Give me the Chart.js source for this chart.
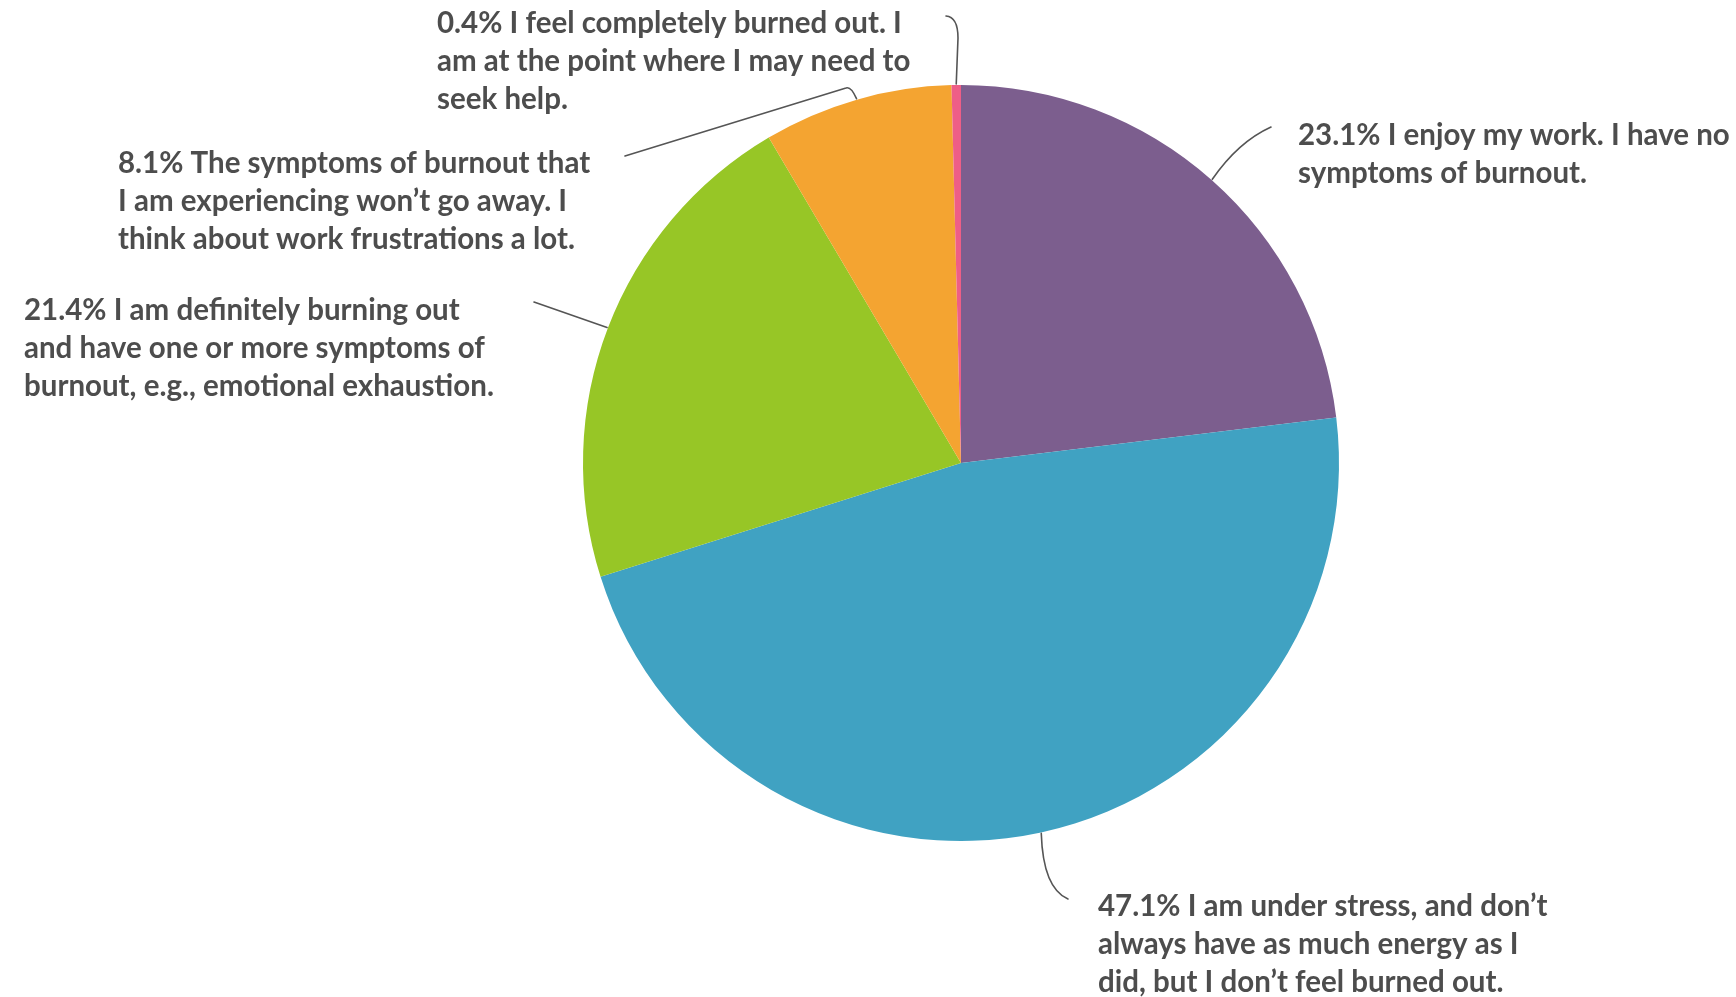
<!DOCTYPE html>
<html>
<head>
<meta charset="utf-8">
<script src="https://cdn.jsdelivr.net/npm/chart.js@4.4.1/dist/chart.umd.min.js"></script>
<style>
  html, body { margin: 0; padding: 0; background: #ffffff; }
  #wrap { width: 1736px; height: 997px; position: relative; }
</style>
</head>
<body>
<div id="wrap"><canvas id="c" width="1736" height="997"></canvas></div>
<script>
// ---- data ----
const categories = [
  "I enjoy my work. I have no symptoms of burnout.",
  "I am under stress, and don’t always have as much energy as I did, but I don’t feel burned out.",
  "I am definitely burning out and have one or more symptoms of burnout, e.g., emotional exhaustion.",
  "The symptoms of burnout that I am experiencing won't go away. I think about work frustrations a lot.",
  "I feel completely burned out. I am at the point where I may need to seek help."
];
const percentValues = [23.1, 47.1, 21.4, 8.1, 0.4];
const sliceColors = ["#7C5E8E", "#40A2C2", "#97C626", "#F4A431", "#EE5E87"];
const labelLines = [
  ["23.1% I enjoy my work. I have no", "symptoms of burnout."],
  ["47.1% I am under stress, and don’t", "always have as much energy as I", "did, but I don’t feel burned out."],
  ["21.4% I am definitely burning out", "and have one or more symptoms of", "burnout, e.g., emotional exhaustion."],
  ["8.1% The symptoms of burnout that", "I am experiencing won’t go away. I", "think about work frustrations a lot."],
  ["0.4% I feel completely burned out. I", "am at the point where I may need to", "seek help."]
];

// ---- layout (label anchors and leader routing) ----
const labelPos = [
  {x: 1298, y: 135},
  {x: 1098, y: 906},
  {x: 24,   y: 310},
  {x: 118,  y: 163},
  {x: 437,  y: 23}
];
const lineHeight = 38;
// leader: list of segments after the arc start point; 'q' = quadratic (cx,cy,x,y), 'l' = line (x,y)
const leaders = [
  [["q", 1238, 142, 1271, 127]],
  [["q", 1043, 888, 1068, 899]],
  [["l", 534, 302]],
  [["q", 851, 86, 846, 88], ["l", 625, 156]],
  [["l", 958, 38], ["q", 958, 17, 946, 16]]
];

const labelPlugin = {
  id: 'labelPlugin',
  afterDatasetsDraw(chart) {
    const ctx = chart.ctx;
    const meta = chart.getDatasetMeta(0);
    ctx.save();
    ctx.strokeStyle = '#555555';
    ctx.lineWidth = 1.6;
    ctx.lineCap = 'round';
    ctx.lineJoin = 'round';
    meta.data.forEach((arc, i) => {
      const mid = (arc.startAngle + arc.endAngle) / 2;
      const r = arc.outerRadius + 1;
      const sx = arc.x + Math.cos(mid) * r;
      const sy = arc.y + Math.sin(mid) * r;
      ctx.beginPath();
      ctx.moveTo(sx, sy);
      leaders[i].forEach(seg => {
        if (seg[0] === 'q') ctx.quadraticCurveTo(seg[1], seg[2], seg[3], seg[4]);
        else ctx.lineTo(seg[1], seg[2]);
      });
      ctx.stroke();
    });
    ctx.fillStyle = '#4d4d4d';
    ctx.font = 'bold 29.5px Lato';
    ctx.textAlign = 'left';
    ctx.textBaseline = 'middle';
    labelLines.forEach((lines, i) => {
      lines.forEach((t, k) => {
        ctx.fillText(t, labelPos[i].x, labelPos[i].y + k * lineHeight);
      });
    });
    ctx.restore();
  }
};

new Chart(document.getElementById('c'), {
  type: 'pie',
  data: {
    labels: categories,
    datasets: [{
      data: percentValues,
      backgroundColor: sliceColors,
      borderWidth: 0
    }]
  },
  options: {
    responsive: false,
    animation: false,
    layout: { padding: { left: 583, right: 397, top: 85, bottom: 156 } },
    plugins: {
      legend: { display: false },
      tooltip: { enabled: false },
      title: { display: false }
    }
  },
  plugins: [labelPlugin]
});
</script>
</body>
</html>
